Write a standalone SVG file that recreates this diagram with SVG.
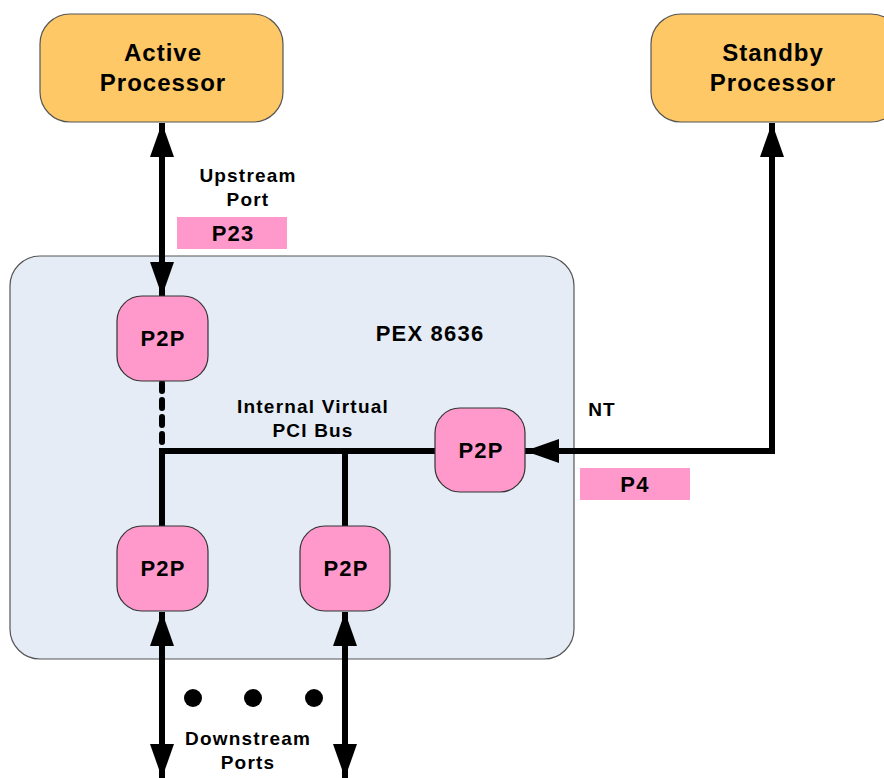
<svg xmlns="http://www.w3.org/2000/svg" width="884" height="778" viewBox="0 0 884 778">
<defs>
<style>
text{font-family:"Liberation Sans",Arial,sans-serif;font-weight:bold;fill:#000;text-anchor:middle}
.proc{fill:#FDC865;stroke:#555;stroke-width:1.2}
.p2p{fill:#FF99CC;stroke:#333;stroke-width:1.2}
.tag{fill:#FF99CC}
.ln{stroke:#000;stroke-width:6;fill:none}
.t22{font-size:24px;letter-spacing:1px}
.t20{font-size:22px;letter-spacing:1.2px}
.t18{font-size:19px;letter-spacing:1.2px}
</style>
<marker id="ah" viewBox="0 0 34 24" refX="34" refY="12" markerWidth="34" markerHeight="24" markerUnits="userSpaceOnUse" orient="auto-start-reverse">
<path d="M0,0 L34,12 L0,24 Z" fill="#000"/>
</marker>
</defs>
<rect width="884" height="778" fill="#fff"/>
<g id="pex">
<rect x="10" y="256" width="564" height="403" rx="30" fill="#E5ECF5" stroke="#555" stroke-width="1.2"/>
<text x="430" y="341" class="t20">PEX 8636</text>
</g>
<g id="active">
<rect class="proc" x="40" y="14" width="243" height="108" rx="30"/>
<text x="163" y="61" class="t22">Active</text>
<text x="163" y="91" class="t22">Processor</text>
</g>
<g id="standby">
<rect class="proc" x="651" y="14" width="250" height="108" rx="30"/>
<text x="773" y="61" class="t22">Standby</text>
<text x="773" y="91" class="t22">Processor</text>
</g>
<g id="connectors">
<line class="ln" x1="162" y1="123" x2="162" y2="296" marker-start="url(#ah)" marker-end="url(#ah)"/>
<line class="ln" x1="162" y1="383" x2="162" y2="446" stroke-dasharray="8,9" stroke-linecap="round"/>
<polyline class="ln" points="162,526 162,451 435,451"/>
<line class="ln" x1="345" y1="451" x2="345" y2="526"/>
<polyline class="ln" points="772,123 772,451 525,451" marker-start="url(#ah)" marker-end="url(#ah)"/>
<line class="ln" x1="162" y1="612" x2="162" y2="778" marker-start="url(#ah)" marker-end="url(#ah)"/>
<line class="ln" x1="345" y1="612" x2="345" y2="778" marker-start="url(#ah)" marker-end="url(#ah)"/>
</g>
<g id="upstream-label">
<text x="248" y="182" class="t18">Upstream</text>
<text x="248" y="206" class="t18">Port</text>
</g>
<g id="p23">
<rect class="tag" x="177" y="217" width="110" height="32"/>
<text x="233" y="241" class="t20">P23</text>
</g>
<g id="p2p-up">
<rect class="p2p" x="117" y="296" width="91" height="85" rx="25"/>
<text x="163" y="346" class="t20">P2P</text>
</g>
<g id="bus-label">
<text x="313" y="413" class="t18">Internal Virtual</text>
<text x="313" y="437" class="t18">PCI Bus</text>
</g>
<g id="p2p-nt">
<rect class="p2p" x="435" y="408" width="90" height="84" rx="25"/>
<text x="481" y="458" class="t20">P2P</text>
</g>
<g id="nt-label">
<text x="602" y="416" class="t18">NT</text>
</g>
<g id="p4">
<rect class="tag" x="580" y="468" width="110" height="32"/>
<text x="635" y="492" class="t20">P4</text>
</g>
<g id="p2p-down1">
<rect class="p2p" x="117" y="526" width="91" height="85" rx="25"/>
<text x="163" y="576" class="t20">P2P</text>
</g>
<g id="p2p-down2">
<rect class="p2p" x="300" y="526" width="90" height="85" rx="25"/>
<text x="346" y="576" class="t20">P2P</text>
</g>
<g id="dots">
<circle cx="193" cy="698" r="9"/>
<circle cx="253" cy="698" r="9"/>
<circle cx="314" cy="698" r="9"/>
</g>
<g id="downstream-label">
<text x="248" y="745" class="t18">Downstream</text>
<text x="248" y="769" class="t18">Ports</text>
</g>
</svg>
